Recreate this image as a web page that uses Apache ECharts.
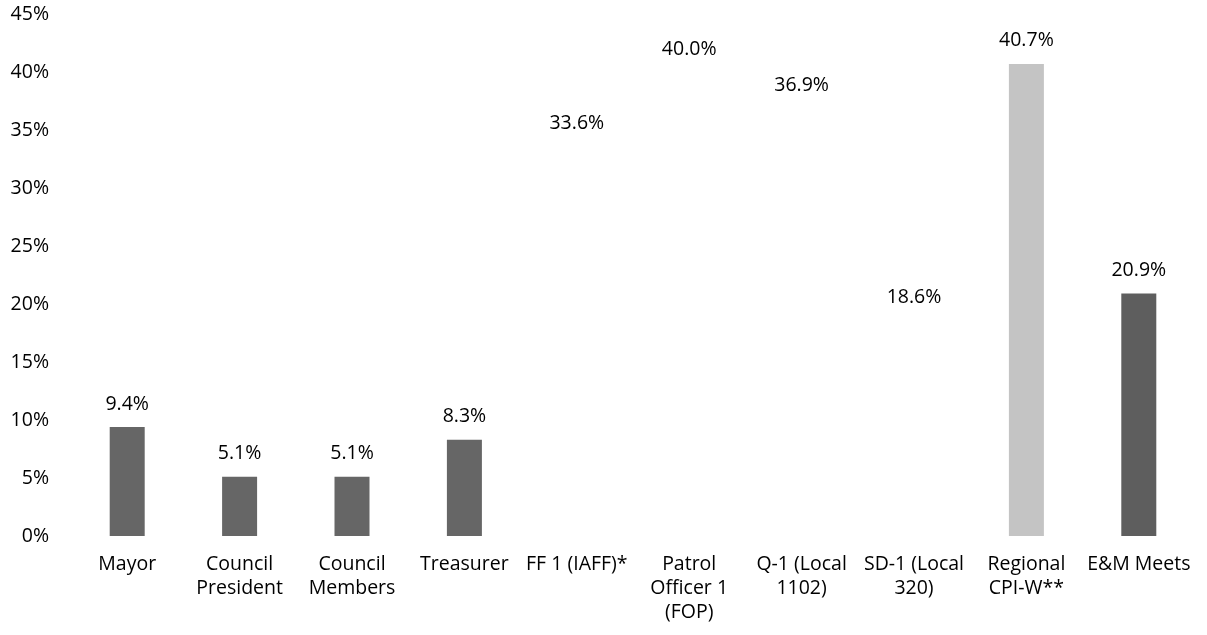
<!DOCTYPE html>
<html>
<head>
<meta charset="utf-8">
<script src="https://cdn.jsdelivr.net/npm/echarts@6/dist/echarts.min.js"></script>
<style>html,body{margin:0;padding:0;background:#fff}#c{width:1207px;height:635px}</style>
</head>
<body>
<div id="c"></div>
<script>
const categories = ["Mayor", "Council\nPresident", "Council\nMembers", "Treasurer", "FF 1 (IAFF)*", "Patrol\nOfficer 1\n(FOP)", "Q-1 (Local\n1102)", "SD-1 (Local\n320)", "Regional\nCPI-W**", "E&M Meets"];
const values = [9.4, 5.1, 5.1, 8.3, 33.6, 40.0, 36.9, 18.6, 40.7, 20.9];
const yTicks = [0, 5, 10, 15, 20, 25, 30, 35, 40, 45];

const barColors = ["#666666", "#666666", "#666666", "#666666", "rgba(255,255,255,0)", "rgba(255,255,255,0)", "rgba(255,255,255,0)", "rgba(255,255,255,0)", "#c4c4c4", "#5e5e5e"];
const font = "'Open Sans', Lato, sans-serif";
const chart = echarts.init(document.getElementById('c'));
chart.setOption({
  animation: false,
  grid: { left: 71, right: 12, top: 14, bottom: 99 },
  xAxis: {
    type: 'category', data: categories,
    axisLine: { show: false }, axisTick: { show: false },
    axisLabel: { interval: 0, color: '#000', fontFamily: font, fontSize: 19.5, lineHeight: 24, margin: 16 }
  },
  yAxis: {
    type: 'value', min: yTicks[0], max: yTicks[yTicks.length - 1], interval: 5,
    splitLine: { show: false }, axisLine: { show: false }, axisTick: { show: false },
    axisLabel: { color: '#000', fontFamily: font, fontSize: 19.5, margin: 22, formatter: v => v + '%' }
  },
  series: [{
    type: 'bar', barWidth: 35,
    data: values.map((v, i) => ({ value: v, itemStyle: { color: barColors[i] } })),
    label: { show: true, position: 'top', distance: 13, color: '#000', fontFamily: font, fontSize: 19.5,
      formatter: p => p.value.toFixed(1) + '%' }
  }]
});
</script>
</body>
</html>
